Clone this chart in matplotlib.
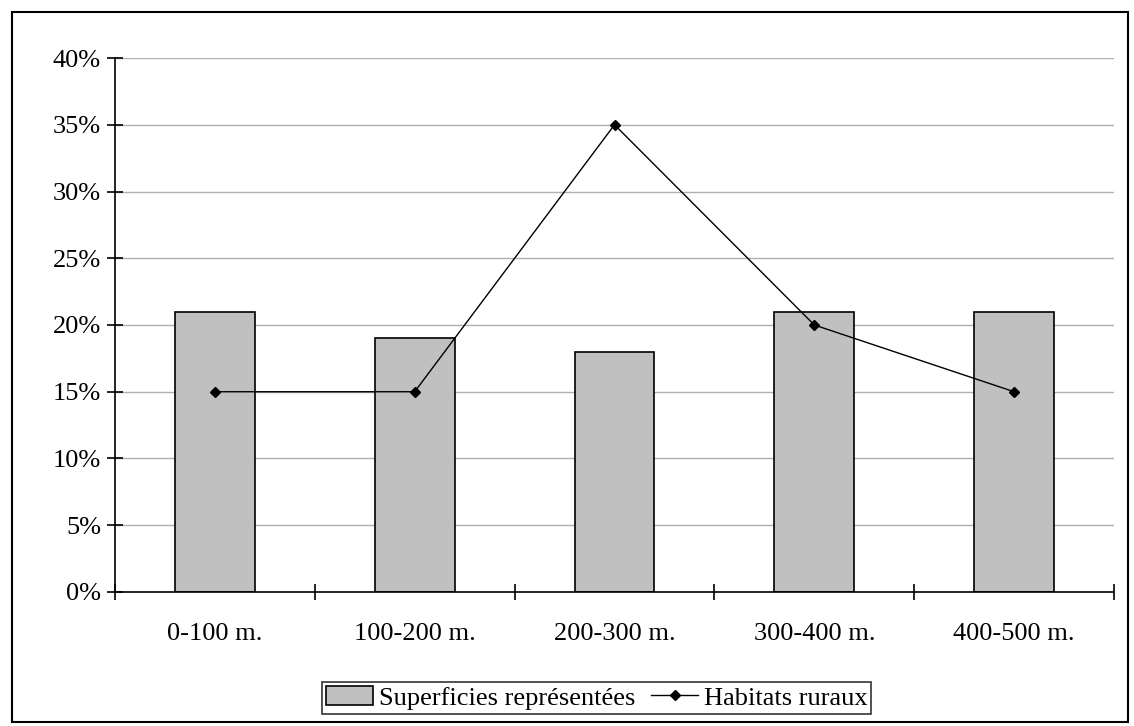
import numpy as np
import matplotlib.pyplot as plt
from matplotlib.patches import Rectangle

plt.rcParams['font.family'] = ['Liberation Serif', 'DejaVu Serif']

categories = ['0-100 m.', '100-200 m.', '200-300 m.', '300-400 m.', '400-500 m.']
superficies = [21, 19, 18, 21, 21]
habitats = [15, 15, 35, 20, 15]

fig = plt.figure(figsize=(11.34, 7.26), dpi=100)
ax = fig.add_axes([0.1014, 0.1846, 0.881, 0.7355])

x = np.arange(len(categories))
bars = ax.bar(x, superficies, width=0.4, color='#c0c0c0', edgecolor='black',
              linewidth=1.2, label='Superficies représentées', zorder=2)
line, = ax.plot(x, habitats, color='black', linewidth=1, marker='D', markersize=5,
                label='Habitats ruraux', zorder=3)

ax.set_xlim(-0.5, len(categories) - 0.5)
ax.set_ylim(0, 40)
ax.set_yticks(np.arange(0, 41, 5))
ax.set_yticklabels([f'{v}%' for v in range(0, 41, 5)])
ax.yaxis.grid(True, color='#b0b0b0', linewidth=1, zorder=0)
ax.set_axisbelow(True)

ax.set_xticks(x)
ax.set_xticklabels(categories)
ax.set_xticks(np.arange(-0.5, len(categories), 1), minor=True)
ax.tick_params(axis='x', which='major', length=0, pad=22, labelsize=19)
ax.tick_params(axis='x', which='minor', direction='inout', length=12, width=1.2)
ax.tick_params(axis='y', direction='inout', length=12, width=1.2, labelsize=19, pad=4)

for side in ['top', 'right']:
    ax.spines[side].set_visible(False)
ax.spines['left'].set_linewidth(1.2)
ax.spines['bottom'].set_linewidth(1.2)

leg = ax.legend(handles=[bars, line], loc='center', bbox_to_anchor=(0.526, 0.0386),
                bbox_transform=fig.transFigure, ncol=2, frameon=True,
                fancybox=False, edgecolor='black', fontsize=19,
                handlelength=1.8, handletextpad=0.2, columnspacing=0.6,
                borderpad=0.15, borderaxespad=0)
leg.get_frame().set_linewidth(1.2)

fig.patches.append(Rectangle((12 / 1134, 4 / 726), 1116 / 1134, 710 / 726,
                             transform=fig.transFigure, fill=False,
                             edgecolor='black', linewidth=1.5))

fig.savefig('out.png', dpi=100)
